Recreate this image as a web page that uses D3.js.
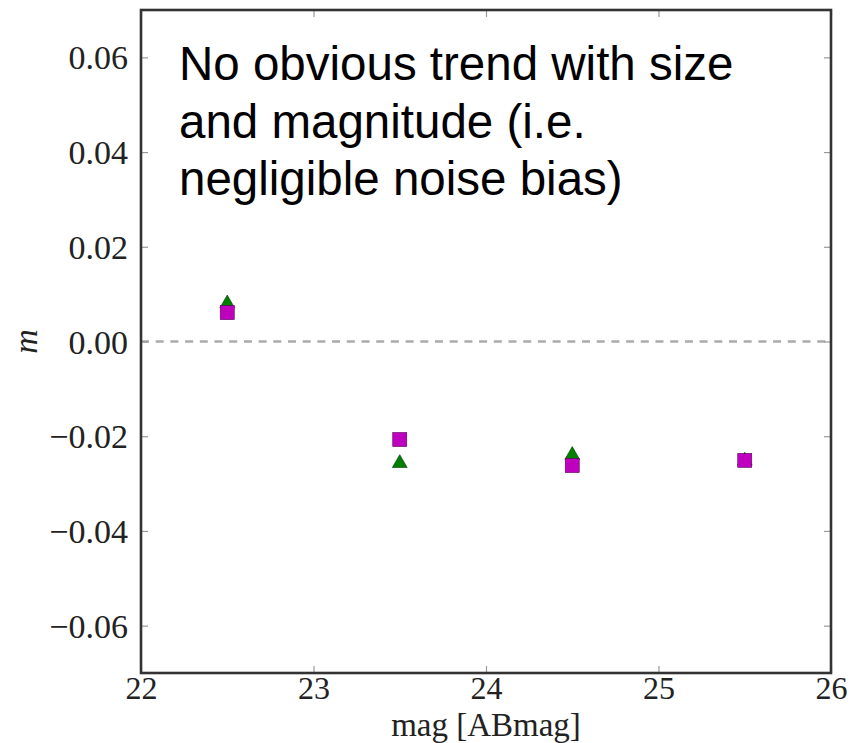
<!DOCTYPE html>
<html>
<head>
<meta charset="utf-8">
<script src="https://cdn.jsdelivr.net/npm/d3@7"></script>
<style>
  html, body { margin: 0; padding: 0; background: #fff; }
  svg { display: block; }
</style>
</head>
<body>
<svg id="chart" width="859" height="743"></svg>
<script>
// ---- data ----
const magBins = [22.5, 23.5, 24.5, 25.5];
const triangleValues = [0.008, -0.0257, -0.024, -0.0252];
const squareValues = [0.0061, -0.0207, -0.0262, -0.0251];
const xTicks = [22, 23, 24, 25, 26];
const yTicks = [-0.06, -0.04, -0.02, 0.00, 0.02, 0.04, 0.06];
const annotationLines = ["No obvious trend with size", "and magnitude (i.e.", "negligible noise bias)"];

const svg = d3.select("#chart");
const margin = { left: 141, right: 28, top: 10, bottom: 70 };
const W = 859, H = 743;
const x = d3.scaleLinear().domain([22, 26]).range([margin.left, W - margin.right]);
const y = d3.scaleLinear().domain([-0.07, 0.07]).range([H - margin.bottom, margin.top]);

const serif = "'Liberation Serif', 'DejaVu Serif', serif";
const fmtY = v => (v < 0 ? "\u2212" : "") + Math.abs(v).toFixed(2);

// zero dashed line
svg.append("line")
  .attr("x1", x(22)).attr("x2", x(26))
  .attr("y1", y(0)).attr("y2", y(0))
  .attr("stroke", "#ababab").attr("stroke-width", 2.4)
  .attr("stroke-dasharray", "8,6.7");

// axes (inward ticks)
const tickLen = 7;
const axL = svg.append("g").attr("transform", `translate(${x(22)},0)`)
  .call(d3.axisLeft(y).tickValues(yTicks).tickSize(-tickLen).tickPadding(tickLen + 6).tickFormat(fmtY));
const axR = svg.append("g").attr("transform", `translate(${x(26)},0)`)
  .call(d3.axisRight(y).tickValues(yTicks).tickSize(-tickLen).tickFormat(""));
const axB = svg.append("g").attr("transform", `translate(0,${y(-0.07)})`)
  .call(d3.axisBottom(x).tickValues(xTicks).tickSize(-tickLen).tickPadding(6).tickFormat(d3.format("d")));
const axT = svg.append("g").attr("transform", `translate(0,${y(0.07)})`)
  .call(d3.axisTop(x).tickValues(xTicks).tickSize(-tickLen).tickFormat(""));

[axL, axR, axB, axT].forEach(g => {
  g.select(".domain").remove();
  g.selectAll(".tick line").attr("stroke", "#999").attr("stroke-width", 1.2);
  g.selectAll("text").attr("font-family", serif).attr("font-size", 34).attr("fill", "#222");
});
axL.selectAll(".tick text").attr("dy", "0.34em");
axB.selectAll(".tick text").attr("font-size", 32).attr("dy", "0.62em");

// frame
svg.append("rect")
  .attr("x", x(22)).attr("y", y(0.07))
  .attr("width", x(26) - x(22)).attr("height", y(-0.07) - y(0.07))
  .attr("fill", "none").attr("stroke", "#333").attr("stroke-width", 2.6);

// triangles (green) under squares (magenta)
const triSym = d3.symbol().type(d3.symbolTriangle).size(95);
svg.append("g").selectAll("path").data(magBins.map((m, i) => [m, triangleValues[i]]))
  .join("path")
  .attr("d", triSym)
  .attr("transform", d => `translate(${x(d[0])},${y(d[1])})`)
  .attr("fill", "#008000").attr("stroke", "#003300").attr("stroke-width", 0.6);

const sq = 14;
svg.append("g").selectAll("rect").data(magBins.map((m, i) => [m, squareValues[i]]))
  .join("rect")
  .attr("x", d => x(d[0]) - sq / 2).attr("y", d => y(d[1]) - sq / 2)
  .attr("width", sq).attr("height", sq)
  .attr("fill", "#bf00bf").attr("stroke", "#5a005a").attr("stroke-width", 0.6);

// axis labels
svg.append("text")
  .attr("x", (x(22) + x(26)) / 2).attr("y", 736)
  .attr("text-anchor", "middle")
  .attr("font-family", serif).attr("font-size", 33).attr("fill", "#222")
  .text("mag [ABmag]");

svg.append("text")
  .attr("transform", `translate(37,${y(0)}) rotate(-90)`)
  .attr("text-anchor", "middle")
  .attr("font-family", serif).attr("font-style", "italic").attr("font-size", 34).attr("fill", "#222")
  .text("m");

// annotation
const ann = svg.append("text")
  .attr("font-family", "'Liberation Sans', Arial, Helvetica, sans-serif")
  .attr("font-size", 47.5).attr("fill", "#000");
annotationLines.forEach((t, i) => {
  ann.append("tspan").attr("x", 179).attr("y", 80 + i * 57.5).text(t);
});
</script>
</body>
</html>
